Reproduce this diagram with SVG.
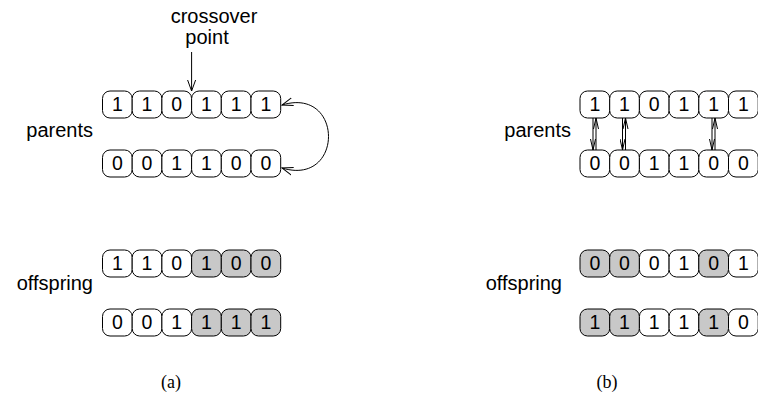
<svg xmlns="http://www.w3.org/2000/svg" width="758" height="398" viewBox="0 0 758 398">
<defs>
<style>
.c{fill:#ffffff;stroke:#000;stroke-width:1}
.g{fill:#c8c8c8;stroke:#000;stroke-width:1}
.d{font-family:"Liberation Sans",Arial,sans-serif;font-size:19.5px;text-anchor:middle;fill:#000}
.l{font-family:"Liberation Sans",Arial,sans-serif;font-size:20px;fill:#000}
.s{font-family:"Liberation Serif","Times New Roman",serif;font-size:18px;text-anchor:middle;fill:#000}
.ln{fill:none;stroke:#000;stroke-width:1}
</style>
<marker id="ah" viewBox="0 0 12 10" refX="11" refY="5" markerWidth="12" markerHeight="10" markerUnits="userSpaceOnUse" orient="auto">
<path d="M0,1 L11,5 L0,9" fill="none" stroke="#000" stroke-width="1"/>
</marker>
<marker id="ahs" viewBox="0 0 12 10" refX="1" refY="5" markerWidth="12" markerHeight="10" markerUnits="userSpaceOnUse" orient="auto">
<path d="M12,1 L1,5 L12,9" fill="none" stroke="#000" stroke-width="1"/>
</marker>
<marker id="sm" viewBox="0 0 12 6" refX="11" refY="3" markerWidth="12" markerHeight="6" markerUnits="userSpaceOnUse" orient="auto">
<path d="M0,0.5 L11,3 L0,5.5" fill="none" stroke="#000" stroke-width="1"/>
</marker>
</defs>
<rect width="758" height="398" fill="#fff"/>

<g id="labels">
<text class="l" x="214" y="23" text-anchor="middle">crossover</text>
<text class="l" x="207" y="44" text-anchor="middle">point</text>
<text class="l" x="93" y="137" text-anchor="end">parents</text>
<text class="l" x="93" y="290" text-anchor="end">offspring</text>
<text class="l" x="571" y="137" text-anchor="end">parents</text>
<text class="l" x="562" y="290" text-anchor="end">offspring</text>
<text class="s" x="171" y="388">(a)</text>
<text class="s" x="607" y="388">(b)</text>
</g>

<g id="a-parent1">
<rect class="c" x="102.5" y="91" width="29.7" height="27" rx="7.5"/><text class="d" x="117.35" y="111">1</text>
<rect class="c" x="132.2" y="91" width="29.7" height="27" rx="7.5"/><text class="d" x="147.05" y="111">1</text>
<rect class="c" x="161.9" y="91" width="29.7" height="27" rx="7.5"/><text class="d" x="176.75" y="111">0</text>
<rect class="c" x="191.6" y="91" width="29.7" height="27" rx="7.5"/><text class="d" x="206.45" y="111">1</text>
<rect class="c" x="221.3" y="91" width="29.7" height="27" rx="7.5"/><text class="d" x="236.15" y="111">1</text>
<rect class="c" x="251" y="91" width="29.7" height="27" rx="7.5"/><text class="d" x="265.85" y="111">1</text>
</g>
<g id="a-parent2">
<rect class="c" x="102.5" y="150" width="29.7" height="27" rx="7.5"/><text class="d" x="117.35" y="170">0</text>
<rect class="c" x="132.2" y="150" width="29.7" height="27" rx="7.5"/><text class="d" x="147.05" y="170">0</text>
<rect class="c" x="161.9" y="150" width="29.7" height="27" rx="7.5"/><text class="d" x="176.75" y="170">1</text>
<rect class="c" x="191.6" y="150" width="29.7" height="27" rx="7.5"/><text class="d" x="206.45" y="170">1</text>
<rect class="c" x="221.3" y="150" width="29.7" height="27" rx="7.5"/><text class="d" x="236.15" y="170">0</text>
<rect class="c" x="251" y="150" width="29.7" height="27" rx="7.5"/><text class="d" x="265.85" y="170">0</text>
</g>
<g id="a-child1">
<rect class="c" x="102.5" y="250" width="29.7" height="27" rx="7.5"/><text class="d" x="117.35" y="270">1</text>
<rect class="c" x="132.2" y="250" width="29.7" height="27" rx="7.5"/><text class="d" x="147.05" y="270">1</text>
<rect class="c" x="161.9" y="250" width="29.7" height="27" rx="7.5"/><text class="d" x="176.75" y="270">0</text>
<rect class="g" x="191.6" y="250" width="29.7" height="27" rx="7.5"/><text class="d" x="206.45" y="270">1</text>
<rect class="g" x="221.3" y="250" width="29.7" height="27" rx="7.5"/><text class="d" x="236.15" y="270">0</text>
<rect class="g" x="251" y="250" width="29.7" height="27" rx="7.5"/><text class="d" x="265.85" y="270">0</text>
</g>
<g id="a-child2">
<rect class="c" x="102.5" y="309" width="29.7" height="27" rx="7.5"/><text class="d" x="117.35" y="329">0</text>
<rect class="c" x="132.2" y="309" width="29.7" height="27" rx="7.5"/><text class="d" x="147.05" y="329">0</text>
<rect class="c" x="161.9" y="309" width="29.7" height="27" rx="7.5"/><text class="d" x="176.75" y="329">1</text>
<rect class="g" x="191.6" y="309" width="29.7" height="27" rx="7.5"/><text class="d" x="206.45" y="329">1</text>
<rect class="g" x="221.3" y="309" width="29.7" height="27" rx="7.5"/><text class="d" x="236.15" y="329">1</text>
<rect class="g" x="251" y="309" width="29.7" height="27" rx="7.5"/><text class="d" x="265.85" y="329">1</text>
</g>

<g id="b-parent1">
<rect class="c" x="580" y="91" width="29.7" height="27" rx="7.5"/><text class="d" x="594.85" y="111">1</text>
<rect class="c" x="609.7" y="91" width="29.7" height="27" rx="7.5"/><text class="d" x="624.55" y="111">1</text>
<rect class="c" x="639.4" y="91" width="29.7" height="27" rx="7.5"/><text class="d" x="654.25" y="111">0</text>
<rect class="c" x="669.1" y="91" width="29.7" height="27" rx="7.5"/><text class="d" x="683.95" y="111">1</text>
<rect class="c" x="698.8" y="91" width="29.7" height="27" rx="7.5"/><text class="d" x="713.65" y="111">1</text>
<rect class="c" x="728.5" y="91" width="29.7" height="27" rx="7.5"/><text class="d" x="743.35" y="111">1</text>
</g>
<g id="b-parent2">
<rect class="c" x="580" y="150" width="29.7" height="27" rx="7.5"/><text class="d" x="594.85" y="170">0</text>
<rect class="c" x="609.7" y="150" width="29.7" height="27" rx="7.5"/><text class="d" x="624.55" y="170">0</text>
<rect class="c" x="639.4" y="150" width="29.7" height="27" rx="7.5"/><text class="d" x="654.25" y="170">1</text>
<rect class="c" x="669.1" y="150" width="29.7" height="27" rx="7.5"/><text class="d" x="683.95" y="170">1</text>
<rect class="c" x="698.8" y="150" width="29.7" height="27" rx="7.5"/><text class="d" x="713.65" y="170">0</text>
<rect class="c" x="728.5" y="150" width="29.7" height="27" rx="7.5"/><text class="d" x="743.35" y="170">0</text>
</g>
<g id="b-child1">
<rect class="g" x="580" y="250" width="29.7" height="27" rx="7.5"/><text class="d" x="594.85" y="270">0</text>
<rect class="g" x="609.7" y="250" width="29.7" height="27" rx="7.5"/><text class="d" x="624.55" y="270">0</text>
<rect class="c" x="639.4" y="250" width="29.7" height="27" rx="7.5"/><text class="d" x="654.25" y="270">0</text>
<rect class="c" x="669.1" y="250" width="29.7" height="27" rx="7.5"/><text class="d" x="683.95" y="270">1</text>
<rect class="g" x="698.8" y="250" width="29.7" height="27" rx="7.5"/><text class="d" x="713.65" y="270">0</text>
<rect class="c" x="728.5" y="250" width="29.7" height="27" rx="7.5"/><text class="d" x="743.35" y="270">1</text>
</g>
<g id="b-child2">
<rect class="g" x="580" y="309" width="29.7" height="27" rx="7.5"/><text class="d" x="594.85" y="329">1</text>
<rect class="g" x="609.7" y="309" width="29.7" height="27" rx="7.5"/><text class="d" x="624.55" y="329">1</text>
<rect class="c" x="639.4" y="309" width="29.7" height="27" rx="7.5"/><text class="d" x="654.25" y="329">1</text>
<rect class="c" x="669.1" y="309" width="29.7" height="27" rx="7.5"/><text class="d" x="683.95" y="329">1</text>
<rect class="g" x="698.8" y="309" width="29.7" height="27" rx="7.5"/><text class="d" x="713.65" y="329">1</text>
<rect class="c" x="728.5" y="309" width="29.7" height="27" rx="7.5"/><text class="d" x="743.35" y="329">0</text>
</g>

<g id="connectors">
<line class="ln" x1="191.6" y1="52" x2="191.6" y2="91" marker-end="url(#ah)"/>
<path class="ln" d="M282,105 C344,86 344,187 282,168" marker-start="url(#ahs)" marker-end="url(#ah)"/>
<line class="ln" x1="593" y1="118" x2="593" y2="150" marker-end="url(#sm)"/>
<line class="ln" x1="596" y1="150" x2="596" y2="118" marker-end="url(#sm)"/>
<line class="ln" x1="622.5" y1="118" x2="622.5" y2="150" marker-end="url(#sm)"/>
<line class="ln" x1="625.5" y1="150" x2="625.5" y2="118" marker-end="url(#sm)"/>
<line class="ln" x1="712" y1="118" x2="712" y2="150" marker-end="url(#sm)"/>
<line class="ln" x1="715" y1="150" x2="715" y2="118" marker-end="url(#sm)"/>
</g>
</svg>
